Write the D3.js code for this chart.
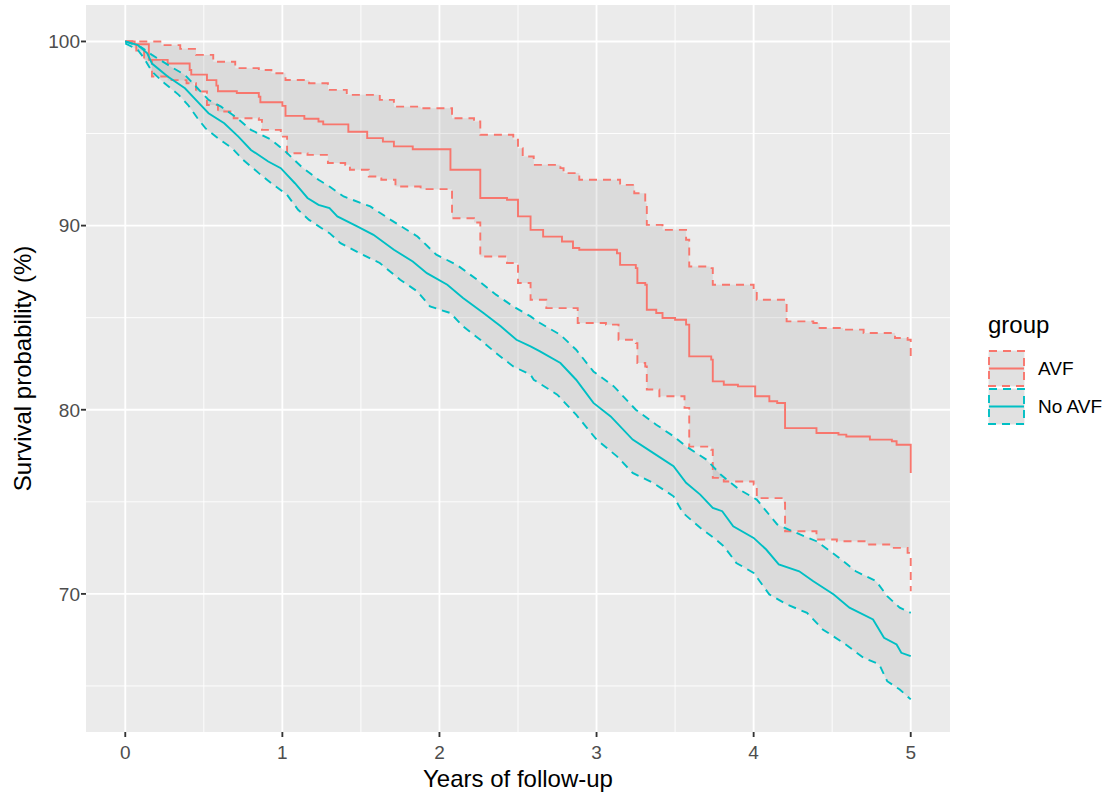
<!DOCTYPE html>
<html lang="en">
  <head>
    <script src="https://d3js.org/d3.v7.min.js"></script>
    <meta charset="utf-8"/>
    <title>Survival by group</title>
  </head>
  <body style="margin:0;background:#fff">
    <div id="km_div"><svg id="km"></svg></div>
  </body>
</html>

<style>
  text { font-family: "Liberation Sans", Arial, Helvetica, sans-serif; }
</style>

<script>
  const width = 1114;
  const height = 796;
  const panel = {left: 86, right: 950, top: 5, bottom: 732};

  const groups = ["AVF", "No AVF"];
  const groupColors = ["#F8766D", "#00BFC4"];
  const xTicks = [0, 1, 2, 3, 4, 5];
  const yTicks = [70, 80, 90, 100];
  const xMinor = [0.5, 1.5, 2.5, 3.5, 4.5];
  const yMinor = [65, 75, 85, 95];

  // [years, survival %] ; AVF is a step curve
  const avfSurv = [[0,100],[0.06,99.85],[0.15,99.0],[0.27,98.8],[0.41,98.45],[0.42,98.2],[0.52,97.9],
    [0.58,97.6],[0.59,97.3],[0.71,97.2],[0.85,97.0],[0.86,96.7],[1.0,96.5],[1.02,95.96],[1.14,95.8],
    [1.23,95.65],[1.26,95.5],[1.42,95.1],[1.54,94.75],[1.64,94.56],[1.71,94.3],[1.83,94.15],[2.07,93.03],
    [2.26,91.5],[2.43,91.4],[2.5,90.5],[2.58,89.77],[2.66,89.4],[2.78,89.14],[2.85,88.78],[2.89,88.69],
    [3.13,88.5],[3.15,87.87],[3.25,87.69],[3.26,86.88],[3.31,86.79],[3.32,85.43],[3.38,85.25],[3.42,84.98],
    [3.5,84.89],[3.57,84.62],[3.59,82.9],[3.73,82.72],[3.74,81.54],[3.81,81.36],[3.9,81.27],[4.01,80.73],
    [4.1,80.46],[4.15,80.37],[4.2,79.0],[4.4,78.74],[4.54,78.65],[4.59,78.55],[4.74,78.38],[4.88,78.29],
    [4.91,78.1],[5.0,76.57]];
  const avfUpper = [[0,100],[0.23,99.8],[0.35,99.6],[0.45,99.27],[0.56,98.9],[0.70,98.55],[0.85,98.45],
    [0.93,98.27],[1.02,97.91],[1.17,97.73],[1.29,97.37],[1.41,97.1],[1.62,96.83],[1.71,96.46],[1.88,96.37],
    [2.08,95.83],[2.22,95.65],[2.26,94.93],[2.47,94.66],[2.5,94.2],[2.53,93.75],[2.6,93.3],[2.77,93.12],
    [2.79,92.85],[2.89,92.49],[3.15,92.21],[3.24,91.76],[3.31,91.22],[3.32,90.04],[3.42,89.77],[3.57,89.23],
    [3.59,87.78],[3.72,87.69],[3.74,86.79],[4.0,86.52],[4.02,85.97],[4.2,85.79],[4.21,84.8],[4.38,84.71],
    [4.42,84.44],[4.57,84.35],[4.7,84.17],[4.9,83.9],[4.98,83.8],[5.0,82.9]];
  const avfLower = [[0,100],[0.07,99.5],[0.12,99.0],[0.17,98.1],[0.27,97.9],[0.39,97.73],[0.45,97.28],
    [0.52,96.55],[0.59,96.2],[0.69,95.83],[0.85,95.74],[0.87,95.2],[0.99,94.83],[1.03,93.93],[1.16,93.84],
    [1.29,93.4],[1.40,93.3],[1.43,93.03],[1.55,92.67],[1.63,92.49],[1.72,92.12],[1.88,91.98],[2.08,90.4],
    [2.22,90.17],[2.26,88.32],[2.43,87.97],[2.5,86.88],[2.58,85.97],[2.68,85.52],[2.88,84.71],[3.06,84.62],
    [3.14,83.8],[3.25,83.62],[3.26,82.54],[3.31,82.35],[3.32,81.1],[3.4,80.73],[3.56,80.1],[3.59,78.0],
    [3.73,77.83],[3.74,76.3],[3.81,76.1],[4.0,75.94],[4.02,75.2],[4.19,74.95],[4.2,73.4],[4.4,72.95],
    [4.53,72.86],[4.72,72.68],[4.87,72.5],[4.98,72.23],[5.0,70.15]];

  // No AVF has many small steps, read off as a dense trace
  const noAvfSurv = [[0,100],[0.08,99.8],[0.14,99.36],[0.17,98.8],[0.27,98.1],[0.38,97.46],[0.46,96.73],
    [0.53,96.1],[0.63,95.56],[0.72,94.83],[0.80,94.11],[0.91,93.48],[0.99,93.12],[1.08,92.3],[1.16,91.5],
    [1.23,91.13],[1.30,90.95],[1.35,90.5],[1.47,89.99],[1.58,89.5],[1.71,88.69],[1.83,88.05],[1.92,87.42],
    [2.05,86.79],[2.15,86.07],[2.28,85.25],[2.39,84.53],[2.49,83.8],[2.58,83.44],[2.64,83.17],[2.77,82.54],
    [2.87,81.63],[2.98,80.37],[3.09,79.64],[3.23,78.38],[3.36,77.66],[3.49,76.93],[3.57,76.03],[3.66,75.39],
    [3.74,74.67],[3.80,74.49],[3.87,73.67],[4.0,73.04],[4.08,72.41],[4.16,71.6],[4.29,71.23],[4.38,70.69],
    [4.51,69.97],[4.61,69.25],[4.76,68.61],[4.83,67.62],[4.91,67.25],[4.94,66.8],[5.0,66.62]];
  const noAvfUpper = [[0,100],[0.10,99.7],[0.17,99.27],[0.29,98.63],[0.38,98.18],[0.46,97.46],[0.53,96.83],
    [0.61,96.46],[0.70,95.92],[0.80,95.2],[0.93,94.66],[1.02,94.02],[1.12,93.21],[1.23,92.49],[1.30,92.12],
    [1.39,91.58],[1.56,91.04],[1.69,90.31],[1.86,89.41],[1.98,88.42],[2.11,87.87],[2.24,87.06],[2.36,86.25],
    [2.47,85.61],[2.58,85.07],[2.64,84.71],[2.77,84.07],[2.87,83.26],[2.98,82.08],[3.11,81.27],[3.25,80.0],
    [3.38,79.19],[3.49,78.56],[3.57,78.01],[3.70,77.29],[3.79,76.48],[3.91,75.66],[4.02,75.12],[4.15,73.77],
    [4.27,73.32],[4.40,72.86],[4.53,72.05],[4.65,71.23],[4.78,70.69],[4.85,69.88],[4.93,69.25],[5.0,68.97]];
  const noAvfLower = [[0,99.9],[0.08,99.54],[0.12,99.09],[0.17,98.36],[0.25,97.73],[0.34,97.1],[0.40,96.55],
    [0.46,95.83],[0.51,95.29],[0.59,94.75],[0.68,94.2],[0.75,93.57],[0.85,92.85],[0.93,92.3],[1.03,91.67],
    [1.10,90.86],[1.17,90.31],[1.25,89.86],[1.30,89.59],[1.37,89.05],[1.49,88.51],[1.62,87.97],[1.75,87.06],
    [1.86,86.42],[1.94,85.61],[2.07,85.25],[2.15,84.53],[2.26,83.8],[2.36,83.08],[2.47,82.35],[2.58,81.9],
    [2.60,81.63],[2.75,80.82],[2.87,79.73],[3.0,78.38],[3.13,77.47],[3.23,76.57],[3.36,76.03],[3.49,75.3],
    [3.55,74.4],[3.66,73.59],[3.76,72.95],[3.81,72.59],[3.89,71.68],[4.0,71.14],[4.10,69.97],[4.21,69.43],
    [4.34,68.97],[4.44,68.07],[4.57,67.35],[4.70,66.53],[4.80,66.17],[4.85,65.26],[4.93,64.81],[5.0,64.27]];

  const series = [
    {name: groups[0], color: groupColors[0], surv: avfSurv, upper: avfUpper, lower: avfLower, step: true},
    {name: groups[1], color: groupColors[1], surv: noAvfSurv, upper: noAvfUpper, lower: noAvfLower, step: false}
  ];

  const svg = d3.select("#km")
    .attr("width", width)
    .attr("height", height);

  const xScale = d3.scaleLinear().domain([-0.25, 5.25]).range([panel.left, panel.right]);
  const yScale = d3.scaleLinear().domain([62.5, 101.98]).range([panel.bottom, panel.top]);

  svg.append("rect")
    .attr("x", panel.left).attr("y", panel.top)
    .attr("width", panel.right - panel.left).attr("height", panel.bottom - panel.top)
    .attr("fill", "#EBEBEB");

  svg.append("defs").append("clipPath").attr("id", "clip")
    .append("rect")
    .attr("x", panel.left).attr("y", panel.top)
    .attr("width", panel.right - panel.left).attr("height", panel.bottom - panel.top);

  // grid
  const grid = svg.append("g");
  grid.selectAll(".xminor").data(xMinor).enter().append("line")
    .attr("x1", d => xScale(d)).attr("x2", d => xScale(d))
    .attr("y1", panel.top).attr("y2", panel.bottom)
    .attr("stroke", "#fff").attr("stroke-width", 0.9);
  grid.selectAll(".yminor").data(yMinor).enter().append("line")
    .attr("y1", d => yScale(d)).attr("y2", d => yScale(d))
    .attr("x1", panel.left).attr("x2", panel.right)
    .attr("stroke", "#fff").attr("stroke-width", 0.9);
  grid.selectAll(".xmajor").data(xTicks).enter().append("line")
    .attr("x1", d => xScale(d)).attr("x2", d => xScale(d))
    .attr("y1", panel.top).attr("y2", panel.bottom)
    .attr("stroke", "#fff").attr("stroke-width", 1.85);
  grid.selectAll(".ymajor").data(yTicks).enter().append("line")
    .attr("y1", d => yScale(d)).attr("y2", d => yScale(d))
    .attr("x1", panel.left).attr("x2", panel.right)
    .attr("stroke", "#fff").attr("stroke-width", 1.85);

  // step value / linear value of a series at time t
  function valueAt(pts, t, step) {
    let i = d3.bisector(d => d[0]).right(pts, t) - 1;
    if (i < 0) i = 0;
    if (step || i >= pts.length - 1) return pts[i][1];
    const a = pts[i], b = pts[i + 1];
    return a[1] + (b[1] - a[1]) * (t - a[0]) / (b[0] - a[0]);
  }

  const plot = svg.append("g").attr("clip-path", "url(#clip)");

  // ribbons
  series.forEach(s => {
    const times = Array.from(new Set(s.upper.map(d => d[0]).concat(s.lower.map(d => d[0])))).sort((a, b) => a - b);
    const area = d3.area()
      .x(t => xScale(t))
      .y0(t => yScale(valueAt(s.lower, t, s.step)))
      .y1(t => yScale(valueAt(s.upper, t, s.step)))
      .curve(s.step ? d3.curveStepAfter : d3.curveLinear);
    plot.append("path")
      .attr("d", area(times))
      .attr("fill", "#7f7f7f")
      .attr("fill-opacity", 0.15);
  });

  // curves
  series.forEach(s => {
    const line = d3.line()
      .x(d => xScale(d[0]))
      .y(d => yScale(d[1]))
      .curve(s.step ? d3.curveStepAfter : d3.curveLinear);
    plot.append("path")
      .attr("d", line(s.surv))
      .attr("fill", "none")
      .attr("stroke", s.color)
      .attr("stroke-width", 1.9);
    [s.upper, s.lower].forEach(b => {
      plot.append("path")
        .attr("d", line(b))
        .attr("fill", "none")
        .attr("stroke", s.color)
        .attr("stroke-width", 1.9)
        .attr("stroke-dasharray", "8,6");
    });
  });

  // axes
  const xAxis = svg.append("g");
  xAxis.selectAll("line").data(xTicks).enter().append("line")
    .attr("x1", d => xScale(d)).attr("x2", d => xScale(d))
    .attr("y1", panel.bottom).attr("y2", panel.bottom + 5)
    .attr("stroke", "#333").attr("stroke-width", 1.85);
  xAxis.selectAll("text").data(xTicks).enter().append("text")
    .attr("x", d => xScale(d)).attr("y", 759)
    .attr("text-anchor", "middle")
    .attr("font-size", 19).attr("fill", "#4D4D4D")
    .text(d => d);

  const yAxis = svg.append("g");
  yAxis.selectAll("line").data(yTicks).enter().append("line")
    .attr("y1", d => yScale(d)).attr("y2", d => yScale(d))
    .attr("x1", panel.left - 5).attr("x2", panel.left)
    .attr("stroke", "#333").attr("stroke-width", 1.85);
  yAxis.selectAll("text").data(yTicks).enter().append("text")
    .attr("x", 80).attr("y", d => yScale(d))
    .attr("dy", "0.36em")
    .attr("text-anchor", "end")
    .attr("font-size", 19).attr("fill", "#4D4D4D")
    .text(d => d);

  svg.append("text")
    .attr("x", (panel.left + panel.right) / 2).attr("y", 787)
    .attr("text-anchor", "middle")
    .attr("font-size", 24).attr("fill", "#000")
    .text("Years of follow-up");

  svg.append("text")
    .attr("transform", "translate(31," + ((panel.top + panel.bottom) / 2) + ") rotate(-90)")
    .attr("text-anchor", "middle")
    .attr("font-size", 24).attr("fill", "#000")
    .text("Survival probability (%)");

  // legend
  const legend = svg.append("g");
  legend.append("text")
    .attr("x", 988).attr("y", 333)
    .attr("font-size", 24).attr("fill", "#000")
    .text("group");

  const keyH = 37;
  series.forEach((s, i) => {
    const ky = 350 + i * (keyH + 1);
    const key = legend.append("g");
    key.append("rect")
      .attr("x", 988).attr("y", ky).attr("width", 37).attr("height", keyH)
      .attr("fill", "#F2F2F2");
    key.append("rect")
      .attr("x", 989).attr("y", ky + 1).attr("width", 35).attr("height", keyH - 2)
      .attr("fill", "#7f7f7f").attr("fill-opacity", 0.15)
      .attr("stroke", s.color).attr("stroke-width", 1.9)
      .attr("stroke-dasharray", "8,6");
    key.append("line")
      .attr("x1", 989).attr("x2", 1024)
      .attr("y1", ky + keyH / 2).attr("y2", ky + keyH / 2)
      .attr("stroke", s.color).attr("stroke-width", 1.9);
    key.append("text")
      .attr("x", 1038).attr("y", ky + keyH / 2)
      .attr("dy", "0.36em")
      .attr("font-size", 19).attr("fill", "#000")
      .text(s.name);
  });
</script>
